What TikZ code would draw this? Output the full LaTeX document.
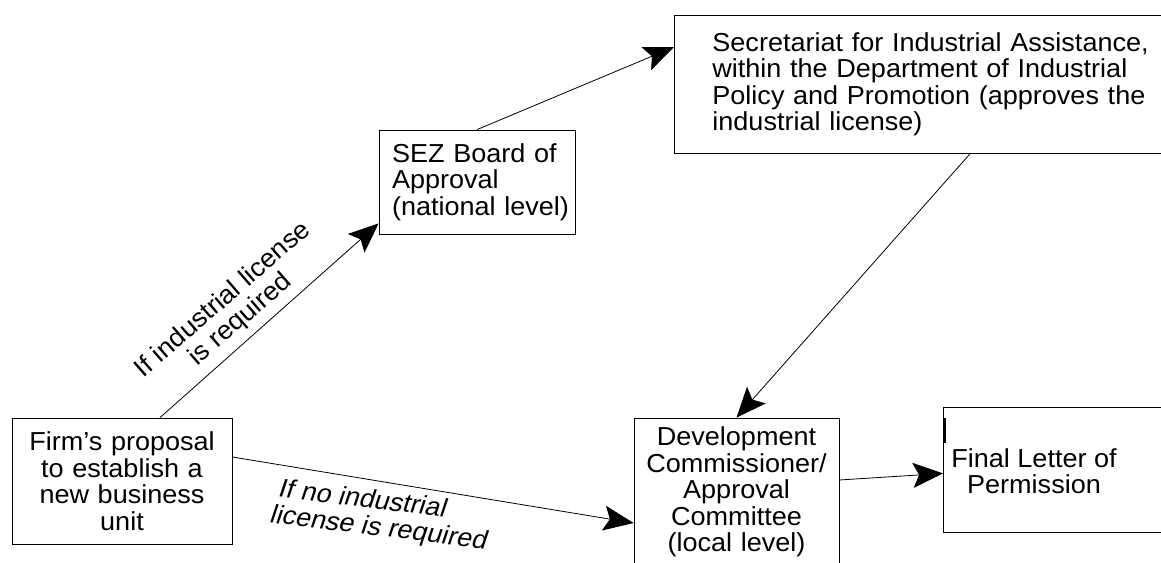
\documentclass[tikz,border=0pt]{standalone}
\usepackage{fontspec}
\setmainfont[FakeStretch=1.04]{Liberation Sans}
\usetikzlibrary{arrows.meta}

\begin{document}
\begin{tikzpicture}[x=1pt,y=-1pt,line width=0.8pt,
  box/.style={draw,rectangle,inner ysep=0pt,font=\fontsize{26}{26.5}\selectfont},
  lbl/.style={inner sep=0pt,font=\fontsize{26}{26.5}\selectfont},
  arr/.style={-{Stealth[length=30pt,width=25pt,inset=6pt]}}]
\useasboundingbox (0,0) rectangle (1161,562);
\node[box,minimum width=220pt,minimum height=126pt,text width=200pt,inner xsep=10pt,align=center] (firm) at (122,481) {Firm's proposal\\to establish a\\new business\\unit};
\node[box,minimum width=196pt,minimum height=104pt,text width=170pt,inner xsep=13pt,align=left] (sez) at (477,182) {SEZ Board of\\Approval\\\mbox{(national level)}};
\node[box,anchor=north west,minimum height=138pt,text width=440pt,inner xsep=38pt,align=left] (secr) at (674,15) {Secretariat for Industrial Assistance,\\within the Department of Industrial\\Policy and Promotion (approves the\\industrial license)};
\node[box,minimum width=205pt,minimum height=148pt,text width=195pt,inner xsep=5pt,align=center] (dev) at (736.5,492) {Development\\Commissioner/\\Approval\\Committee\\(local level)};
\node[draw,anchor=north west,minimum width=240pt,minimum height=125pt] (finalbox) at (943,407) {};
\node[lbl,align=center] (final) at (1034,471) {Final Letter of\\Permission};
\draw[line width=2.5pt] ([xshift=2pt,yshift=-11pt]finalbox.north west) -- ++(0,25);

\draw[arr] ([xshift=38pt]firm.north) -- ([yshift=11pt]sez.south west);
\draw[arr] (sez.north) -- ([yshift=-32pt]secr.north west);
\draw[arr] ([xshift=296pt]secr.south west) -- (dev.north);
\draw[arr] ([yshift=24pt]firm.east) -- ([yshift=-31pt]dev.west);
\draw[arr] ([yshift=12pt]dev.east) -- ([yshift=-3.5pt]finalbox.west);

\node[lbl,align=center,rotate=41] (yes) at (232,310) {If industrial license\\is required};
\node[lbl,align=left,anchor=north west,rotate=-7,xslant=0.2] (no) at (283,478) {If no industrial\\license is required};
\end{tikzpicture}
\end{document}
